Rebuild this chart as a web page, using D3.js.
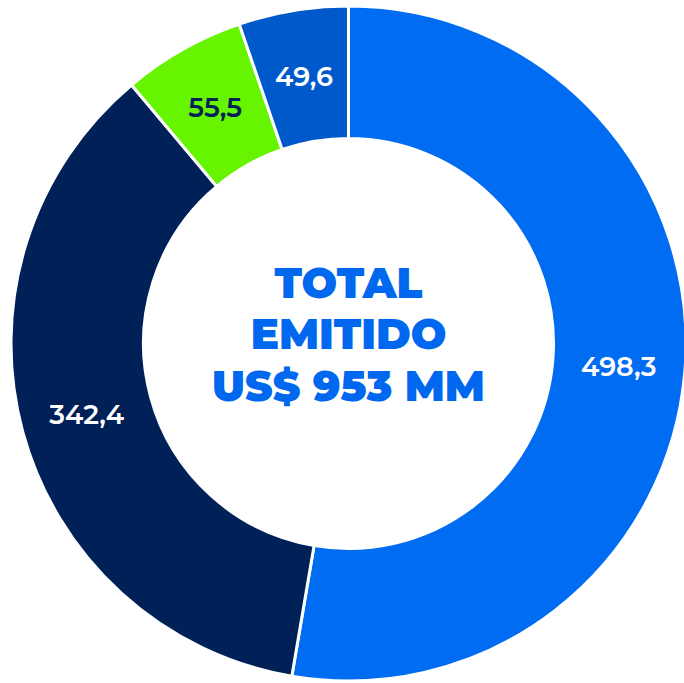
<!DOCTYPE html>
<html>
<head>
<meta charset="utf-8">
<script src="https://cdn.jsdelivr.net/npm/d3@7"></script>
<style>
  html, body { margin: 0; padding: 0; background: #fff; }
  svg { display: block; }
  .slice-label { font-family: Montserrat, 'DejaVu Sans', sans-serif; font-size: 27px; font-weight: 600; }
  .center-text { font-family: Montserrat, 'DejaVu Sans', sans-serif; font-size: 42px; font-weight: 900; fill: #0068ee; }
</style>
</head>
<body>
<svg id="chart"></svg>
<script>
const labels = ['498,3', '342,4', '55,5', '49,6'];
const values = [498.3, 342.4, 55.5, 49.6];
const colors = ['#006cf2', '#002058', '#66f400', '#0059cb'];
const labelColors = ['#ffffff', '#ffffff', '#002058', '#ffffff'];
const centerLines = ['TOTAL', 'EMITIDO', 'US$ 953 MM'];

const width = 684;
const height = 683;
const cx = 348.5;
const cy = 343.5;
const outerR = 337.5;
const innerR = 205;

const svg = d3.select('#chart')
    .attr('width', width)
    .attr('height', height);

const g = svg.append('g')
    .attr('transform', `translate(${cx},${cy})`);

const pie = d3.pie()
    .sort(null)
    .value(d => d);

const arcs = pie(values);

const arc = d3.arc()
    .innerRadius(innerR)
    .outerRadius(outerR);

const labelArc = d3.arc()
    .innerRadius((innerR + outerR) / 2)
    .outerRadius((innerR + outerR) / 2);

g.selectAll('path.slice')
  .data(arcs)
  .join('path')
    .attr('class', 'slice')
    .attr('d', arc)
    .attr('fill', (d, i) => colors[i])
    .attr('stroke', '#fff')
    .attr('stroke-width', 3);

g.selectAll('text.slice-label')
  .data(arcs)
  .join('text')
    .attr('class', 'slice-label')
    .attr('transform', d => `translate(${labelArc.centroid(d)})`)
    .attr('text-anchor', 'middle')
    .attr('dy', '0.36em')
    .attr('fill', (d, i) => labelColors[i])
    .text((d, i) => labels[i]);

const lineY = d3.scalePoint()
    .domain(centerLines)
    .range([-46, 57]);

g.selectAll('text.center-text')
  .data(centerLines)
  .join('text')
    .attr('class', 'center-text')
    .attr('text-anchor', 'middle')
    .attr('y', d => lineY(d))
    .text(d => d);
</script>
</body>
</html>
